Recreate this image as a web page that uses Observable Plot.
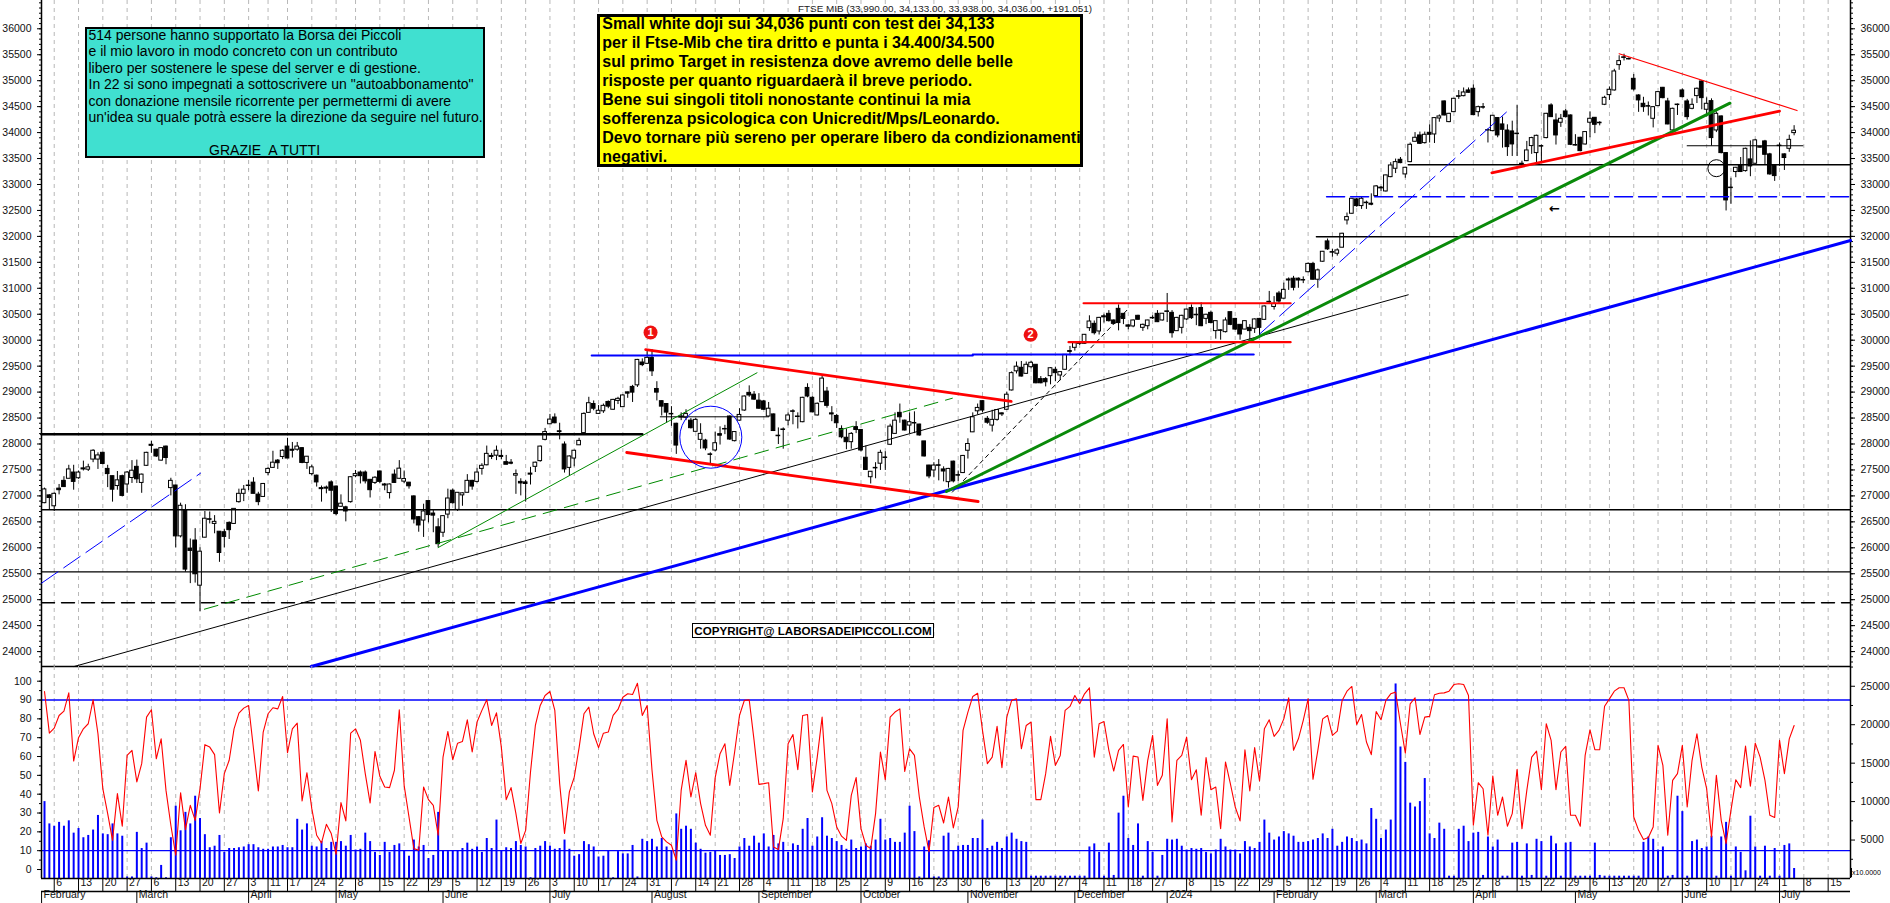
<!DOCTYPE html>
<html><head><meta charset="utf-8">
<style>
html,body{margin:0;padding:0;background:#fff;width:1890px;height:903px;overflow:hidden}
svg{position:absolute;left:0;font-family:"Liberation Sans",Arial,sans-serif}
.box{position:absolute;box-sizing:border-box;border-style:solid;border-color:#000;white-space:pre;color:#000;font-family:"Liberation Sans",Arial,sans-serif;overflow:hidden}
</style>
<script src="https://cdn.jsdelivr.net/npm/d3@7"></script>
<script src="https://cdn.jsdelivr.net/npm/@observablehq/plot@0.6"></script>
</head><body>
<div id="chart"></div>
<script>
const opens=[26860,27010,26800,27140,27290,27330,27450,27340,27530,27505,
27700,27700,27830,27520,27380,27190,27380,27220,27345,27560,
27250,27580,27985,27890,27680,27950,27150,27200,26220,26720,
25985,26140,25270,26195,26550,26460,26310,26300,26480,26460,
26880,27040,27200,27255,27025,26980,27440,27540,27680,27750,
27950,27890,27890,27920,27635,27420,27390,27150,27160,27260,
27180,26790,26780,26880,27380,27450,27450,27310,27250,27470,
27220,27055,27410,27330,27275,27255,26990,26590,26525,26900,
26660,26395,26290,26640,27100,26730,27010,27060,27290,27270,
27520,27590,27770,27775,27770,27650,27640,27390,27270,27260,
27430,27560,27670,28080,28380,28510,28245,27990,27540,27720,
27975,28210,28600,28770,28580,28630,28810,28660,28830,28710,
28995,29100,29130,29570,29545,29660,29060,28825,28770,28580,
28390,28530,28505,28450,28235,28080,28066,27800,27875,28190,
28290,28530,28055,28450,28645,28985,28950,28835,28820,28530,
28570,28160,28280,28450,28630,28530,28420,29080,28890,28550,
28806,29010,28590,28540,28290,28120,28035,28325,28270,27735,
27360,27540,27620,27740,27985,28195,28600,28450,28355,28405,
28375,28050,27585,27490,27590,27510,27265,27660,27400,27440,
27870,28225,28630,28825,28485,28355,28465,28590,28660,29032,
29400,29468,29352,29480,29526,29250,29250,29307,29430,29320,
29430,29790,29853,29940,29930,30232,30315,30168,30460,30508,
30380,30604,30508,30285,30265,30470,30238,30270,30430,30508,
30380,30555,30527,30174,30238,30400,30620,30490,30620,30411,
30527,30175,30190,30155,30540,30410,30296,30205,30238,30220,
30410,30392,30740,30640,30900,30800,31170,31185,31185,31160,
31310,31470,31165,31512,31903,31697,31666,31782,32308,32436,
32712,32584,32650,32630,32776,32940,32866,33142,33303,33476,
33194,33431,33823,33945,33797,33996,33964,34272,34600,34202,
34394,34700,34702,34812,34844,34394,34490,34046,34028,34280,
34157,34040,34022,33980,33400,33450,33740,33605,33740,33894,
34523,34234,34190,34407,34330,33760,33900,33771,34190,34285,
34190,34536,34722,34812,35300,35450,35420,35036,34715,34555,
34510,34266,34510,34863,34600,34042,34540,34812,34600,34458,
34703,34985,34440,34606,34041,34311,33605,32940,33240,33367,
33258,33483,33400,33720,33830,33580,33355,33750,33580,33688,
33990];
const highs=[27150,27020,27060,27220,27370,27590,27590,27480,27670,27610,
27890,27830,27840,27590,27380,27470,27400,27470,27680,27690,
27420,27840,28050,27900,27930,27960,27340,27210,26860,26830,
26170,26370,26000,26700,26690,26620,26310,26350,26500,26750,
27130,27200,27300,27350,27070,27240,27540,27860,27700,27890,
28110,28030,28030,27930,27760,27590,27400,27190,27190,27290,
27190,27020,26800,27370,27490,27480,27480,27310,27370,27480,
27240,27230,27500,27680,27480,27260,27000,26600,26840,26900,
26730,26560,26620,27130,27130,27060,27060,27410,27300,27530,
27620,27960,27820,27960,27880,27780,27700,27500,27330,27300,
27550,27650,27960,28300,28570,28580,28400,28040,27770,27880,
28110,28600,28900,28830,28740,28770,28830,28860,28900,28950,
29000,29130,29630,29640,29800,29820,29200,28830,28780,28720,
28400,28600,28660,28490,28490,28390,28090,27830,28230,28330,
28360,28540,28240,28680,28925,29120,29010,28970,28840,28800,
28575,28310,28310,28600,28660,28600,28900,29160,28910,28790,
29310,29090,28720,28570,28350,28290,28220,28430,28280,27960,
27470,27640,27880,27850,28380,28600,28770,28460,28600,28620,
28380,28050,27590,27640,27700,27560,27530,27670,27480,27780,
28100,28600,28770,28830,28530,28650,28660,28600,29000,29390,
29580,29590,29580,29590,29530,29300,29280,29470,29480,29390,
29720,29880,29950,29980,30110,30470,30370,30440,30500,30570,
30390,30680,30510,30300,30390,30480,30310,30385,30470,30570,
30510,30900,30570,30440,30480,30600,30680,30620,30720,30500,
30560,30370,30200,30430,30540,30420,30300,30370,30300,30410,
30420,30660,30940,30840,30940,31100,31200,31230,31200,31220,
31490,31500,31370,31710,31950,31750,31760,32060,32450,32730,
32730,32750,32680,32820,32980,32960,33180,33420,33490,33520,
33330,33800,34000,34010,34010,34150,34290,34340,34610,34370,
34660,34810,34860,34860,34920,34510,34560,34070,34330,34290,
34300,34150,34220,34520,33450,33830,33910,33950,33760,34370,
34555,34360,34350,34450,34340,33960,33910,34020,34400,34290,
34210,34700,34880,35220,35480,35510,35440,35120,34730,34680,
34590,34500,34790,34870,34660,34470,34550,34840,34640,34650,
34860,35000,34670,34650,34400,34320,33610,33120,33330,33520,
33700,33840,33870,33740,33850,33600,33370,33800,33590,33950,
34133];
const lows=[26850,26720,26700,27020,27170,27330,27110,27320,27480,27470,
27640,27510,27600,27160,26880,27110,26980,27050,27240,27240,
27050,27570,27820,27740,27670,27600,27000,26000,26190,25530,
25310,25320,24770,26190,26460,26270,25720,26000,26160,26450,
26860,26890,27100,27040,26810,26980,27390,27540,27510,27700,
27720,27730,27860,27620,27510,27390,27170,26880,27040,26680,
26620,26780,26500,26860,27350,27230,27230,26960,27220,27240,
27100,26940,27240,27320,27240,27130,26460,26300,26200,26480,
26290,26000,26200,26560,26840,26700,26800,27060,27110,27250,
27400,27580,27700,27680,27700,27600,27600,27030,27000,26880,
27210,27450,27650,28060,28380,28390,28080,27440,27380,27560,
27970,28190,28590,28640,28570,28590,28680,28650,28760,28700,
28880,28800,29090,29490,29540,29300,28830,28540,28400,28340,
27800,28450,28450,28290,28230,27900,27870,27600,27850,27980,
28180,28070,28040,28440,28630,28900,28840,28670,28650,28520,
28240,27990,27900,28350,28370,28290,28410,28890,28600,28540,
28800,28690,28430,28300,28100,27890,27900,28200,27850,27490,
27230,27330,27490,27490,27970,28190,28400,28250,28200,28200,
28150,27750,27330,27350,27290,27270,27150,27250,27280,27430,
27710,28220,28560,28600,28380,28230,28440,28530,28650,29020,
29350,29290,29340,29450,29160,29160,29100,29140,29200,29220,
29420,29700,29790,29900,29920,30170,30100,30100,30330,30350,
30300,30180,30300,30200,30240,30390,30170,30200,30400,30340,
30370,30340,30040,30170,30120,30380,30400,30280,30260,30300,
30320,30020,30000,30140,30280,30190,30000,30200,30000,30130,
30050,30380,30700,30580,30700,30790,30960,30950,31000,31090,
31300,31160,31000,31500,31730,31600,31620,31780,32220,32430,
32560,32520,32520,32590,32760,32860,32855,33130,33210,33400,
33120,33420,33820,33770,33780,33800,33790,34200,34320,34190,
34390,34640,34690,34760,34330,34300,34450,33800,34020,33900,
33700,33540,33540,33540,33360,33440,33580,33380,33410,33880,
34290,33760,34100,34280,33750,33740,33630,33760,33900,33980,
34130,34520,34620,34800,35200,35380,35400,34800,34390,34390,
34320,34090,34500,34650,34150,34030,34330,34670,34240,34440,
34560,34440,34300,33740,34000,33590,32490,32620,33130,33230,
33240,33150,33390,33700,33370,33180,33060,33350,33270,33620,
33938];
const closes=[27125,26960,27040,27110,27170,27510,27270,27450,27510,27550,
27870,27780,27615,27420,27120,27300,27000,27450,27485,27320,
27410,27830,27965,27760,27920,27730,27290,26220,26810,25580,
25940,25490,25925,26560,26540,26500,25900,26210,26340,26750,
27040,27120,27190,27040,26880,27230,27520,27640,27630,27870,
27720,27870,27950,27635,27755,27550,27260,27130,27140,27100,
26650,26850,26700,27360,27420,27380,27280,27110,27350,27270,
27200,27220,27250,27525,27325,27185,26545,26430,26700,26630,
26620,26070,26610,26950,26860,27060,27050,27290,27180,27450,
27580,27810,27750,27870,27750,27600,27620,27420,27240,27230,
27410,27640,27950,28230,28470,28400,28230,27510,27760,27870,
28060,28580,28786,28680,28640,28735,28720,28850,28870,28935,
28970,28990,29620,29520,29660,29400,28990,28720,28605,28570,
27970,28510,28580,28305,28465,28195,27915,27790,28015,28160,
28280,28086,28230,28560,28915,28935,28855,28680,28660,28680,
28250,28150,28270,28550,28620,28520,28890,28915,28610,28775,
29260,28735,28570,28400,28130,28035,28195,28270,27875,27500,
27465,27530,27830,27730,28335,28450,28515,28260,28420,28395,
28165,27760,27375,27585,27580,27470,27520,27280,27390,27770,
28000,28515,28695,28645,28410,28465,28655,28570,28950,29365,
29490,29300,29526,29565,29170,29170,29190,29460,29365,29385,
29718,29775,29943,29930,30104,30360,30135,30430,30440,30367,
30315,30330,30410,30260,30380,30393,30296,30380,30420,30347,
30510,30545,30135,30430,30470,30590,30425,30480,30270,30490,
30330,30367,30180,30380,30296,30205,30110,30367,30175,30400,
30238,30650,30730,30700,30745,30970,31150,31010,31150,31150,
31470,31165,31345,31704,31750,31687,31730,32051,32372,32725,
32584,32725,32640,32610,32963,32925,33175,33367,33431,33412,
33322,33765,33900,33784,33958,33958,34279,34311,34330,34362,
34651,34690,34773,34767,34337,34490,34480,34040,34324,33945,
34054,33720,33772,33970,33385,33656,33894,33938,33730,34362,
34298,33945,34266,34298,33765,33750,33643,34010,34266,34150,
34180,34670,34825,35178,35377,35440,35410,34830,34620,34490,
34500,34490,34780,34664,34157,34458,34530,34683,34298,34535,
34844,34664,34555,33894,34362,33605,32693,32930,33322,33240,
33688,33348,33850,33710,33572,33194,33162,33740,33510,33860,
34036];
const volumeA=[10.0,7.1,6.8,7.3,6.8,7.5,5.9,6.5,5.3,5.6,6.3,8.2,5.8,5.7,7.1,5.8,5.5,.2,.2,6.0,3.9,4.6,.2,.1,1.7,.1,5.3,9.4,6.2,8.6,7.1,10.7,7.8,5.7,4.0,4.2,5.6,3.4,3.9,3.9,4.0,4.1,4.4,4.4,4.0,3.8,3.8,4.1,4.1,4.3,4.0,4.0,7.7,6.3,7.1,4.2,4.1,4.8,3.9,4.7,4.7,4.8,4.2,5.6,3.7,3.8,5.9,4.8,3.4,3.0,4.7,3.4,4.3,4.5,3.6,2.9,5.0,4.1,4.3,2.6,3.0,8.6,3.6,3.5,3.6,3.6,3.9,4.6,3.8,4.1,3.4,5.2,3.9,7.6,3.6,4.0,3.9,4.8,4.3,4.1,.1,3.9,4.2,4.8,4.2,3.8,3.9,5.0,3.8,2.9,3.1,4.8,4.4,4.1,2.8,2.9,3.6,.1,3.5,3.2,3.2,4.3,.2];
const volumeB=[5.1,4.8,5.1,4.1,5.2,4.1,3.6,8.4,6.4,6.8,6.4,4.6,3.8,3.3,3.4,3.6,3.0,3.0,3.1,2.6,4.1,5.2,4.2,5.5,4.6,5.8,4.1,5.6,4.5,4.7,3.4,4.5,4.3,6.4,7.8,4.2,5.4,7.9,5.5,5.2,4.8,4.3,3.8,5.0,3.9,4.1,4.5,4.2,5.0,7.7,5.0,5.2,4.7,4.7,5.9,9.4,6.1,.2,4.1,4.9,.2,.2,5.5,5.9,3.6,4.2,4.3,4.3,5.2,5.2,7.6,3.9,4.2,4.7,3.9,5.4,5.9,5.1,4.8,4.7,.3,.3,.3,.3,.3,.3,.3,.3,.3,.3,.3,.3,4.1,4.5,3.4,.3,4.6,.4,8.5,10.7,5.2,4.3,7.1,.3,4.8,3.4,.3,3.0,5.1,5.0,5.1,4.2,3.7,3.9,3.8,3.9,3.4,3.2,3.7,5.1,4.1,3.7,3.7,3.2,4.8,4.1,3.9,4.7,7.6,5.9,5.0,5.4];
const volumeC=[6.1,5.8,5.5,4.7,4.7,4.8,5.0,5.2,5.8,5.2,6.4,4.2,4.7,5.4,5.2,4.8,5.0,4.5,9.1,7.7,5.2,6.3,7.6,25.3,17.1,15.1,9.8,9.3,10.0,13.0,5.8,5.2,7.2,6.4,.3,.3,6.4,6.8,4.8,5.9,6.0,.4,5.4,4.1,5.0,.3,.3,4.6,4.7,.3,4.5,.4,5.1,4.8,.3,5.5,4.5,.3,4.6,4.7,.3,.3,.3,.3,4.6,.4,.3,.3,.3,.3,.3,.3,.3,.3,4.7,5.4,5.1,3.7,4.1,.3,.4,10.7,8.7,.3,4.8,5.0,3.9,4.1,5.5,.3,5.4,7.3,.3,4.1,3.4,1.0,8.1,4.1,.3,4.2,.3,3.9,.3,4.3,4.5,1.3];
const oscA=[94.5,72.4,75.1,81.8,84.1,93.8,57.6,70.0,74.7,77.4,90.1,72.1,42.9,29.7,15.5,40.3,23.0,60.6,63.3,46.5,56.2,80.9,84.8,58.8,69.4,42.0,23.5,7.6,40.8,21.2,34.1,26.1,42.9,66.3,65.0,61.0,30.0,50.9,58.0,74.7,83.0,85.7,87.1,64.1,41.7,73.0,82.7,85.9,85.3,91.9,62.0,74.7,77.7,36.4,51.4,32.3,18.2,14.1,24.0,19.1,8.1,35.5,25.8,72.4,74.7,68.6,50.9,35.3,62.7,49.5,43.8,43.5,52.7,84.8,44.7,27.9,11.1,10.2,43.8,37.1,34.1,18.2,59.7,73.3,58.3,67.1,68.0,79.5,62.4,78.3,84.5,90.1,76.5,83.2,65.0,37.1,43.5,29.7,13.8,20.8,51.8,76.5,87.1,92.4,94.5,84.5,45.6,19.1,41.2,49.1,64.7,82.7,86.2,72.1,64.7,72.4,73.0,81.8,85.0,91.5,93.3,92.9,98.9];
const oscB=[81.8,87.1,52.7,26.1,17.3,14.7,12.9,4.9,42.0,58.0,38.5,51.4,35.0,23.5,18.2,48.8,61.5,66.8,44.7,62.4,81.8,89.8,90.1,68.6,45.2,45.6,46.1,12.0,10.6,27.0,66.8,71.7,53.0,81.8,82.3,41.2,59.7,80.9,42.0,35.0,22.6,17.7,15.5,39.4,48.8,21.7,12.9,11.1,29.7,62.4,47.7,80.9,83.6,85.3,52.1,64.1,60.6,38.5,22.6,9.4,32.9,34.1,24.7,38.5,22.1,33.2,73.9,83.6,91.9,93.6,73.9,56.2,59.7,76.0,54.1,80.9,89.8,90.6,64.1,76.5,78.3,37.1,37.1,50.9,70.7,55.3,60.6,84.5,86.6,92.4,88.0,93.3,96.5,59.7,77.4,78.6,63.3,52.3,63.3,66.4,33.2,60.2,59.7,36.7,58.0,71.2,44.7,50.0,80.0,25.3,58.0,60.6,70.3,47.7,53.0,28.8,59.4,42.4,43.8,21.7,57.1,45.6,33.2,25.8,63.6,41.7,64.7,47.0,74.7,79.5,70.7,73.9];
const oscC=[80.0,91.2,63.3,69.4,79.2,90.6,47.9,63.3,80.0,81.8,71.2,73.5,89.8,94.7,97.2,77.0,82.3,67.7,61.0,83.9,79.5,89.8,93.3,94.2,77.4,61.8,88.0,91.2,71.7,80.9,81.3,92.8,93.6,93.8,94.7,98.2,98.6,98.2,92.4,23.5,46.1,42.9,18.2,49.6,28.8,38.5,23.0,29.7,53.2,21.7,42.0,59.7,62.9,42.4,77.4,68.6,42.4,62.4,65.4,28.8,28.8,23.0,60.6,74.2,63.6,63.6,86.7,90.6,94.7,96.5,96.5,89.8,27.9,20.8,15.9,17.0,22.6,65.9,55.3,18.2,47.3,50.9,65.9,33.2,58.0,72.1,54.4,42.9,17.3,50.0,26.1,13.8,31.4,47.7,43.5,65.5,44.2,67.1,59.7,47.3,28.8,27.6,68.6,50.9,69.4,76.5];

const weekBars=[2,7,12,17,22,27,32,37,42,46,50,55,60,64,69,74,79,84,89,94,99,104,109,114,119,124,129,134,138,143,148,153,158,163,168,173,178,183,188,193,198,203,208,213,218,223,228,235,240,245,250,255,260,265,270,275,280,285,290,294,298,303,308,313,318,322,327,332,337,342,347,352,357,362,367];
const weekLabels=[6,13,20,27,6,13,20,27,3,11,17,24,2,8,15,22,29,5,12,19,26,3,10,17,24,31,7,14,21,28,4,11,18,25,2,9,16,23,30,6,13,20,27,4,11,18,27,8,15,22,29,5,12,19,26,4,11,18,25,2,8,15,22,29,6,13,20,27,3,10,17,24,1,8,15];
const monthBars=[-0.6,19,42,60,82,104,125,147,168,190,212,231,253,274,294,315,337,357];
const monthLabels=["February","March","April","May","June","July","August","September","October","November","December","2024","February","March","April","May","June","July"];

const xMin=-0.617, xMax=371.6, yMin=23713, yMax=36545;
const thickBlackLevel=[[xMin,28189],[123,28189]];
const level26732=[[xMin,26732],[xMax,26732]];
const level25537=[[xMin,25537],[xMax,25537]];
const level24940=[[xMin,24940],[xMax,24940]];
const thinBlueA=[[xMin,25318],[32.1,27437]];
const thinBlueB=[[250,30117],[300.8,34394]];
const greenDashed=[[32.9,24817],[186.8,28882]];
const greenThin=[[81,26005],[146.6,29372]];
const blackThin=[[6.1,yMin],[280.6,30875]];
const blueThick=[[54.9,yMin],[xMax,31921]];
const blackDashed=[[186.8,27073],[222.8,30586]];
const greenThick=[[185.6,27085],[346.8,34566]];
const redTop=[[123.7,29820],[198.9,28820]];
const redBottom=[[119.8,27836],[192.1,26892]];
const blueLevel=[[112.6,29705],[191,29705],[191,29724],[248.8,29724]];
const redLevelHigh=[[213.8,30712],[256.4,30712]];
const redLevelLow=[[210.7,29962],[256.4,29962]];
const level33379=[[280.6,33379],[xMax,33379]];
const level31992=[[261.7,31992],[xMax,31992]];
const blueDashLevel=[[263.8,32763],[xMax,32763]];
const redThinDown=[[324,35518],[360.6,34425]];
const redThickUp=[[297.8,33225],[357,34412]];
const level33746=[[338,33746],[361.8,33746]];
const level28524=[[126.7,28524],[149,28524]];

const oscValues=[...oscA,...oscB,...oscC], volumes=[...volumeA,...volumeB,...volumeC];
const bars=d3.range(361).map(i=>({i,o:opens[i],h:highs[i],l:lows[i],c:closes[i],osc:oscValues[i],vol:volumes[i]}));
const up=bars.filter(d=>d.c>=d.o), down=bars.filter(d=>d.c<d.o);
const seg=(pts,opt)=>Plot.line(pts,{x:d=>d[0],y:d=>d[1],stroke:"#000",strokeWidth:1,...opt});
const GRID="#b8b8b8", FS=10.5, LB="#111";
const hw=0.38;

const priceChart=Plot.plot({
  width:1890,height:668,marginLeft:41,marginRight:40,marginTop:0,marginBottom:2,
  style:{background:"transparent",overflow:"visible"},
  x:{domain:[xMin,xMax],axis:null},y:{domain:[yMin,yMax],axis:null,label:null},
  marks:[
    Plot.ruleX(weekBars,{stroke:GRID,strokeDasharray:"4,4"}),
    Plot.axisY({anchor:"left",label:null,ticks:d3.range(23800,36501,100),tickSize:2,fill:"none",stroke:"#000"}),
    Plot.axisY({anchor:"left",label:null,ticks:d3.range(24000,36001,500),tickSize:4,tickPadding:6,tickFormat:d=>String(d),stroke:"#000",fill:LB,fontSize:FS}),
    Plot.axisY({anchor:"right",label:null,ticks:d3.range(23800,36501,100),tickSize:2,fill:"none",stroke:"#000"}),
    Plot.axisY({anchor:"right",label:null,ticks:d3.range(24000,36001,500),tickSize:4,tickPadding:6,tickFormat:d=>String(d),stroke:"#000",fill:LB,fontSize:FS}),
    Plot.ruleX([xMin,xMax],{stroke:"#000",strokeWidth:1.5}),
    Plot.ruleY([yMin],{stroke:"#000",strokeWidth:1.5}),
    Plot.ruleX(bars,{x:"i",y1:"l",y2:"h",stroke:"#000",strokeWidth:1}),
    Plot.rect(up,{x1:d=>d.i-hw,x2:d=>d.i+hw,y1:"o",y2:"c",fill:"#fff",stroke:"#000",strokeWidth:1}),
    Plot.rect(down,{x1:d=>d.i-hw,x2:d=>d.i+hw,y1:"o",y2:"c",fill:"#000",stroke:"#000",strokeWidth:1}),
    seg(thickBlackLevel,{strokeWidth:2.5}),
    seg(level26732,{strokeWidth:1.4}),
    seg(level25537,{strokeWidth:1.4}),
    seg(level24940,{strokeWidth:1.4,strokeDasharray:"13,7"}),
    seg(level33379,{strokeWidth:1.4}),
    seg(level31992,{strokeWidth:1.4}),
    seg(level33746,{strokeWidth:1.2}),
    seg(level28524,{strokeWidth:1}),
    seg(blackThin,{strokeWidth:1}),
    seg(blackDashed,{strokeWidth:1,strokeDasharray:"4,4"}),
    seg(thinBlueA,{stroke:"#0000ff",strokeDasharray:"20,7"}),
    seg(thinBlueB,{stroke:"#0000ff",strokeDasharray:"20,7"}),
    seg(blueDashLevel,{stroke:"#0000ff",strokeWidth:1.5,strokeDasharray:"18,6"}),
    seg(blueThick,{stroke:"#0000ff",strokeWidth:3}),
    seg(blueLevel,{stroke:"#0000ff",strokeWidth:2.2}),
    seg(greenDashed,{stroke:"#008a00",strokeDasharray:"14,8"}),
    seg(greenThin,{stroke:"#008a00"}),
    seg(greenThick,{stroke:"#0a8a0a",strokeWidth:3}),
    seg(redTop,{stroke:"#ff0000",strokeWidth:2.8}),
    seg(redBottom,{stroke:"#ff0000",strokeWidth:2.8}),
    seg(redLevelHigh,{stroke:"#ff0000",strokeWidth:2.2}),
    seg(redLevelLow,{stroke:"#ff0000",strokeWidth:2.2}),
    seg(redThinDown,{stroke:"#ff0000",strokeWidth:1.2}),
    seg(redThickUp,{stroke:"#ff0000",strokeWidth:2.8}),
    Plot.dot([[137.1,28131]],{x:d=>d[0],y:d=>d[1],r:31,stroke:"#0000ff",fill:"none",strokeWidth:1}),
    Plot.dot([[344,33314]],{x:d=>d[0],y:d=>d[1],r:8.5,stroke:"#000",fill:"none",strokeWidth:1}),
    Plot.dot([[124.7,30147],[202.9,30103]],{x:d=>d[0],y:d=>d[1],r:7,fill:"#ee1111"}),
    Plot.text([[124.7,30147,"1"],[202.9,30103,"2"]],{x:d=>d[0],y:d=>d[1],text:d=>d[2],fill:"#fff",fontWeight:"bold",fontSize:11}),
    Plot.text([[310.7,32524,"←"]],{x:d=>d[0],y:d=>d[1],text:d=>d[2],fill:"#000",fontWeight:"bold",fontSize:13,fontFamily:"DejaVu Sans"})
  ]
});
priceChart.style.top="0px";

const volToOsc=v=>-4.77+v*4.083;
const rightTicks=[5,10,15,20,25];
const bottomY=-4.77, topY=107.8;
const oscChart=Plot.plot({
  width:1890,height:237,marginLeft:41,marginRight:40,marginTop:0,marginBottom:25,
  style:{background:"transparent",overflow:"visible"},
  x:{domain:[xMin,xMax],axis:null},y:{domain:[bottomY,topY],axis:null,label:null},
  marks:[
    Plot.ruleX(weekBars,{stroke:GRID,strokeDasharray:"4,4"}),
    Plot.ruleX(bars,{x:"i",y1:bottomY,y2:d=>volToOsc(d.vol),stroke:"#0000ff",strokeWidth:2}),
    Plot.ruleY([90,10],{stroke:"#0000ff",strokeWidth:1.3}),
    Plot.line(bars,{x:"i",y:"osc",stroke:"#ff0000",strokeWidth:1.1,curve:"linear"}),
    Plot.axisY({anchor:"left",label:null,ticks:d3.range(0,106,5),tickSize:2,fill:"none",stroke:"#000"}),
    Plot.axisY({anchor:"left",label:null,ticks:d3.range(0,101,10),tickSize:4,tickPadding:6,tickFormat:d=>String(d),stroke:"#000",fill:LB,fontSize:FS}),
    Plot.axisY({anchor:"right",label:null,ticks:rightTicks.map(volToOsc),tickSize:4,tickPadding:6,tickFormat:(d,i)=>String(rightTicks[i]*1000),stroke:"#000",fill:LB,fontSize:FS}),
    Plot.axisY({anchor:"right",label:null,ticks:[2.5,7.5,12.5,17.5,22.5,27.5].map(volToOsc),tickSize:2,fill:"none",stroke:"#000"}),
    Plot.ruleX([xMin,xMax],{stroke:"#000",strokeWidth:1.5}),
    Plot.ruleY([bottomY],{stroke:"#000",strokeWidth:1.5}),
    Plot.ruleY([bottomY],{stroke:"#000",strokeWidth:1.5,dy:13}),
    Plot.ruleX(weekBars,{stroke:"#000",insetTop:212,insetBottom:-13}),
    Plot.ruleX(monthBars,{stroke:"#000",insetTop:225,insetBottom:-25}),
    Plot.text(weekBars,{x:d=>d,text:(d,i)=>String(weekLabels[i]),frameAnchor:"bottom",dy:7,dx:2,textAnchor:"start",fontSize:FS,fill:LB}),
    Plot.text(monthBars,{x:d=>d,text:(d,i)=>monthLabels[i],frameAnchor:"bottom",dy:19.5,dx:2,textAnchor:"start",fontSize:FS,fill:LB})
  ]
});
oscChart.style.top="666px";

const host=document.getElementById("chart");
host.append(priceChart,oscChart);

function box(css,html){const d=document.createElement("div");d.className="box";d.style.cssText=css;d.innerHTML=html;host.append(d);}
box("left:0;top:2px;width:1092px;border:0;text-align:right;font-size:9.9px;color:#222;line-height:13px","FTSE MIB (33,990.00, 34,133.00, 33,938.00, 34,036.00, +191.051)");
box("left:84.5px;top:26.5px;width:400.5px;height:131px;border-width:2.5px;background:#40E0D0;font-size:14px;line-height:16.5px;padding:0 0 0 2px",
"<div style='margin-top:-2px'>514 persone hanno supportato la Borsa dei Piccoli\ne il mio lavoro in modo concreto con un contributo\nlibero per sostenere le spese del server e di gestione.\nIn 22 si sono impegnati a sottoscrivere un \"autoabbonamento\"\ncon donazione mensile ricorrente per permettermi di avere\nun'idea su quale potrà essere la direzione da seguire nel futuro.\n\n                               GRAZIE  A TUTTI</div>");
box("left:597.3px;top:14.3px;width:485.5px;height:152.5px;border-width:3px;background:#ffff00;font-size:16px;font-weight:bold;line-height:18.9px;padding:0 0 0 2px",
"<div style='margin-top:-2px'>Small white doji sui 34,036 punti con test dei 34,133\nper il Ftse-Mib che tira dritto e punta i 34.400/34.500\nsul primo Target in resistenza dove avremo delle belle\nrisposte per quanto riguardaerà il breve periodo.\nBene sui singoli titoli nonostante continui la mia\nsofferenza psicologica con Unicredit/Mps/Leonardo.\nDevo tornare più sereno per operare libero da condizionamenti\nnegativi.</div>");
box("left:692px;top:623px;width:242px;height:15px;border-width:1px;background:#fff;font-size:11.6px;font-weight:bold;line-height:13px;text-align:center","COPYRIGHT@ LABORSADEIPICCOLI.COM");
box("left:1851px;top:868px;width:30px;height:9px;border-width:0 0 0 1px;background:#fff;font-size:7px;line-height:9px;text-align:center","x10.0000");
</script>
</body></html>
